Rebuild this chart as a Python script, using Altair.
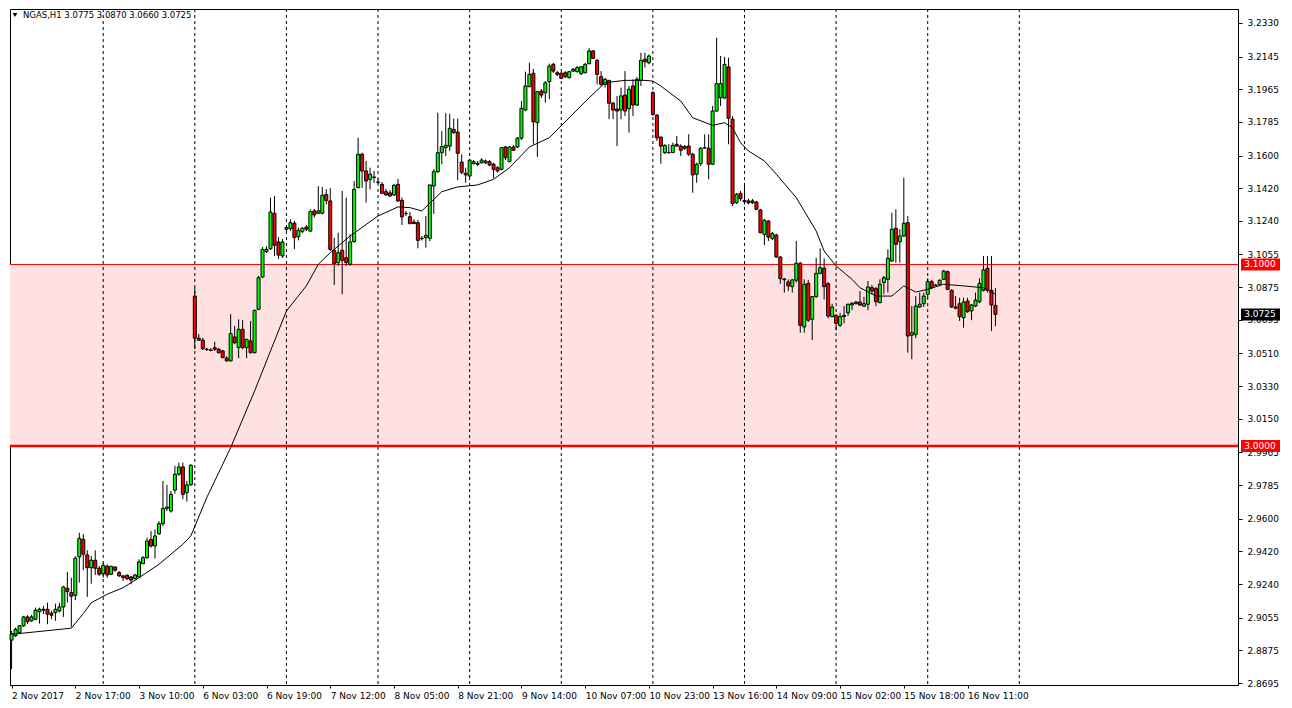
import json
import altair as alt
import pandas as pd

# ---------------- data (NGAS, H1) ----------------
opens = [
    2.8931, 2.8955, 2.8973, 2.9010, 2.9059, 2.9037, 2.9046, 2.9088, 2.9101, 2.9101,
    2.9079, 2.9083, 2.9092, 2.9114, 2.9217, 2.9193, 2.9178, 2.9389, 2.9486, 2.9400,
    2.9330, 2.9371, 2.9327, 2.9297, 2.9338, 2.9294, 2.9334, 2.9303, 2.9285, 2.9288,
    2.9279, 2.9270, 2.9279, 2.9352, 2.9385, 2.9486, 2.9450, 2.9517, 2.9572, 2.9657,
    2.9642, 2.9757, 2.9845, 2.9885, 2.9743, 2.9786, 3.0826, 3.0594, 3.0583, 3.0533,
    3.0529, 3.0542, 3.0533, 3.0524, 3.0484, 3.0469, 3.0601, 3.0542, 3.0643, 3.0542,
    3.0579, 3.0514, 3.0753, 3.0931, 3.1070, 3.1087, 3.1282, 3.1124, 3.1047, 3.1194,
    3.1197, 3.1227, 3.1153, 3.1181, 3.1206, 3.1184, 3.1295, 3.1282, 3.1282, 3.1386,
    3.1350, 3.1078, 3.1010, 3.1078, 3.1037, 3.1001, 3.1126, 3.1423, 3.1607, 3.1515,
    3.1469, 3.1479, 3.1454, 3.1441, 3.1401, 3.1394, 3.1383, 3.1441, 3.1353, 3.1280,
    3.1263, 3.1234, 3.1230, 3.1142, 3.1148, 3.1144, 3.1432, 3.1511, 3.1616, 3.1643,
    3.1652, 3.1744, 3.1729, 3.1564, 3.1502, 3.1487, 3.1555, 3.1551, 3.1560, 3.1560,
    3.1566, 3.1552, 3.1533, 3.1524, 3.1647, 3.1566, 3.1647, 3.1647, 3.1695, 3.1851,
    3.1979, 3.2053, 3.1781, 3.1955, 3.1946, 3.2007, 3.2102, 3.2056, 3.2053, 3.2056,
    3.2029, 3.2065, 3.2062, 3.2051, 3.2056, 3.2106, 3.2176, 3.2124, 3.2034, 3.1992,
    3.2014, 3.1888, 3.1856, 3.1851, 3.1933, 3.1858, 3.1983, 3.1878, 3.2014, 3.2130,
    3.2111, 3.1946, 3.1823, 3.1702, 3.1616, 3.1616, 3.1616, 3.1662, 3.1652, 3.1649,
    3.1652, 3.1607, 3.1497, 3.1555, 3.1642, 3.1640, 3.1552, 3.1845, 3.1918, 3.1917,
    3.2088, 3.1800, 3.1340, 3.1392, 3.1353, 3.1350, 3.1350, 3.1344, 3.1300, 3.1166,
    3.1239, 3.1142, 3.1162, 3.1041, 3.0920, 3.0904, 3.0878, 3.0913, 3.1007, 3.0656,
    3.0896, 3.0698, 3.0823, 3.0951, 3.0979, 3.0894, 3.0713, 3.0720, 3.0665, 3.0713,
    3.0734, 3.0777, 3.0784, 3.0793, 3.0770, 3.0781, 3.0872, 3.0867, 3.0790, 3.0900,
    3.0918, 3.1019, 3.1199, 3.1126, 3.1157, 3.1230, 3.0610, 3.0615, 3.0766, 3.0784,
    3.0836, 3.0905, 3.0887, 3.0891, 3.0918, 3.0960, 3.0858, 3.0766, 3.0784, 3.0707,
    3.0799, 3.0744, 3.0771, 3.0795, 3.0858, 3.0979, 3.0858, 3.0775,
]
highs = [
    2.8982, 2.9000, 2.9015, 2.9065, 2.9068, 2.9070, 2.9110, 2.9110, 2.9120, 2.9138,
    2.9092, 2.9132, 2.9138, 2.9230, 2.9306, 2.9275, 2.9394, 2.9523, 2.9514, 2.9426,
    2.9394, 2.9426, 2.9340, 2.9358, 2.9349, 2.9340, 2.9338, 2.9312, 2.9288, 2.9294,
    2.9285, 2.9296, 2.9376, 2.9394, 2.9495, 2.9532, 2.9541, 2.9587, 2.9808, 2.9786,
    2.9753, 2.9891, 2.9909, 2.9909, 2.9808, 2.9900, 3.0872, 3.0617, 3.0596, 3.0542,
    3.0539, 3.0575, 3.0540, 3.0529, 3.0495, 3.0726, 3.0661, 3.0698, 3.0693, 3.0588,
    3.0689, 3.0749, 3.0937, 3.1096, 3.1101, 3.1368, 3.1377, 3.1151, 3.1140, 3.1212,
    3.1249, 3.1239, 3.1203, 3.1206, 3.1217, 3.1304, 3.1306, 3.1432, 3.1427, 3.1414,
    3.1420, 3.1146, 3.1175, 3.1405, 3.1368, 3.1166, 3.1460, 3.1698, 3.1616, 3.1570,
    3.1533, 3.1515, 3.1471, 3.1454, 3.1416, 3.1410, 3.1443, 3.1471, 3.1368, 3.1295,
    3.1289, 3.1250, 3.1245, 3.1157, 3.1267, 3.1427, 3.1526, 3.1836, 3.1735, 3.1834,
    3.1830, 3.1803, 3.1803, 3.1607, 3.1533, 3.1581, 3.1575, 3.1570, 3.1586, 3.1578,
    3.1575, 3.1561, 3.1542, 3.1647, 3.1652, 3.1652, 3.1658, 3.1702, 3.1900, 3.2062,
    3.2111, 3.2077, 3.1955, 3.1966, 3.2010, 3.2106, 3.2110, 3.2065, 3.2060, 3.2065,
    3.2065, 3.2082, 3.2093, 3.2093, 3.2110, 3.2191, 3.2181, 3.2132, 3.2065, 3.2027,
    3.2016, 3.1895, 3.1928, 3.1974, 3.2065, 3.1983, 3.2020, 3.2032, 3.2166, 3.2166,
    3.2157, 3.1955, 3.1827, 3.1702, 3.1662, 3.1662, 3.1671, 3.1708, 3.1662, 3.1658,
    3.1717, 3.1616, 3.1561, 3.1647, 3.1717, 3.1717, 3.1873, 3.2249, 3.2148, 3.2143,
    3.2139, 3.1818, 3.1394, 3.1405, 3.1436, 3.1362, 3.1361, 3.1350, 3.1306, 3.1250,
    3.1245, 3.1179, 3.1170, 3.1047, 3.0926, 3.0918, 3.0920, 3.1129, 3.1014, 3.0918,
    3.0915, 3.0826, 3.1037, 3.1089, 3.1034, 3.0904, 3.0784, 3.0727, 3.0734, 3.0771,
    3.0784, 3.0793, 3.0799, 3.0854, 3.0821, 3.0909, 3.0887, 3.0876, 3.0918, 3.0937,
    3.1083, 3.1285, 3.1304, 3.1194, 3.1478, 3.1267, 3.0771, 3.0826, 3.0845, 3.0845,
    3.0924, 3.0915, 3.0893, 3.0918, 3.0970, 3.0967, 3.0862, 3.0826, 3.0817, 3.0817,
    3.0817, 3.0782, 3.0845, 3.0924, 3.1047, 3.1047, 3.1047, 3.0870,
]
lows = [
    2.8772, 2.8949, 2.8966, 2.9004, 2.9019, 2.9033, 2.9041, 2.9022, 2.9074, 2.9019,
    2.9046, 2.9037, 2.9083, 2.9059, 2.9138, 2.9004, 2.9151, 2.9248, 2.9316, 2.9169,
    2.9242, 2.9290, 2.9285, 2.9275, 2.9275, 2.9290, 2.9308, 2.9279, 2.9257, 2.9261,
    2.9239, 2.9266, 2.9275, 2.9349, 2.9380, 2.9440, 2.9380, 2.9510, 2.9560, 2.9642,
    2.9633, 2.9738, 2.9836, 2.9707, 2.9694, 2.9781, 3.0533, 3.0579, 3.0529, 3.0524,
    3.0522, 3.0524, 3.0511, 3.0484, 3.0465, 3.0465, 3.0561, 3.0484, 3.0533, 3.0484,
    3.0509, 3.0511, 3.0748, 3.0926, 3.1063, 3.1080, 3.1047, 3.1030, 3.1036, 3.1184,
    3.1184, 3.1085, 3.1133, 3.1173, 3.1184, 3.1179, 3.1258, 3.1278, 3.1276, 3.1331,
    3.1074, 3.0887, 3.0992, 3.0836, 3.0992, 3.0992, 3.1120, 3.1420, 3.1422, 3.1341,
    3.1414, 3.1450, 3.1443, 3.1388, 3.1377, 3.1372, 3.1377, 3.1344, 3.1217, 3.1267,
    3.1221, 3.1223, 3.1089, 3.1132, 3.1092, 3.1129, 3.1278, 3.1504, 3.1552, 3.1597,
    3.1625, 3.1719, 3.1464, 3.1497, 3.1450, 3.1482, 3.1551, 3.1542, 3.1556, 3.1553,
    3.1542, 3.1475, 3.1506, 3.1519, 3.1575, 3.1564, 3.1625, 3.1642, 3.1686, 3.1845,
    3.1977, 3.1662, 3.1592, 3.1917, 3.1891, 3.1910, 3.2054, 3.2038, 3.2021, 3.2027,
    3.2024, 3.2060, 3.2057, 3.2043, 3.2052, 3.2101, 3.2132, 3.1992, 3.1983, 3.1974,
    3.1800, 3.1800, 3.1652, 3.1800, 3.1818, 3.1726, 3.1818, 3.1873, 3.1983, 3.2084,
    3.2102, 3.1818, 3.1680, 3.1555, 3.1608, 3.1610, 3.1614, 3.1647, 3.1597, 3.1630,
    3.1597, 3.1395, 3.1450, 3.1542, 3.1636, 3.1469, 3.1548, 3.1840, 3.1873, 3.1911,
    3.1662, 3.1322, 3.1333, 3.1350, 3.1331, 3.1331, 3.1333, 3.1300, 3.1171, 3.1106,
    3.1129, 3.1135, 3.1036, 3.0894, 3.0845, 3.0854, 3.0845, 3.0900, 3.0624, 3.0624,
    3.0683, 3.0583, 3.0817, 3.0946, 3.0808, 3.0704, 3.0709, 3.0638, 3.0656, 3.0674,
    3.0716, 3.0748, 3.0780, 3.0771, 3.0766, 3.0748, 3.0836, 3.0771, 3.0785, 3.0836,
    3.0845, 3.1014, 3.1010, 3.1010, 3.1151, 3.0514, 3.0478, 3.0594, 3.0760, 3.0766,
    3.0817, 3.0865, 3.0879, 3.0887, 3.0915, 3.0859, 3.0760, 3.0753, 3.0689, 3.0652,
    3.0733, 3.0693, 3.0766, 3.0788, 3.0851, 3.0845, 3.0634, 3.0660,
]
closes = [
    2.8967, 2.8991, 2.9010, 2.9059, 2.9033, 2.9059, 2.9096, 2.9101, 2.9096, 2.9074,
    2.9068, 2.9101, 2.9114, 2.9224, 2.9198, 2.9173, 2.9382, 2.9492, 2.9404, 2.9330,
    2.9371, 2.9327, 2.9294, 2.9343, 2.9290, 2.9338, 2.9316, 2.9285, 2.9275, 2.9270,
    2.9262, 2.9290, 2.9362, 2.9385, 2.9477, 2.9450, 2.9505, 2.9572, 2.9657, 2.9664,
    2.9734, 2.9845, 2.9885, 2.9734, 2.9786, 2.9894, 3.0594, 3.0583, 3.0536, 3.0531,
    3.0527, 3.0533, 3.0514, 3.0487, 3.0469, 3.0619, 3.0569, 3.0643, 3.0542, 3.0588,
    3.0514, 3.0748, 3.0927, 3.1083, 3.1083, 3.1289, 3.1106, 3.1052, 3.1124, 3.1203,
    3.1230, 3.1148, 3.1188, 3.1199, 3.1194, 3.1291, 3.1273, 3.1295, 3.1381, 3.1353,
    3.1083, 3.1004, 3.1065, 3.1023, 3.1010, 3.1124, 3.1414, 3.1607, 3.1515, 3.1460,
    3.1497, 3.1482, 3.1453, 3.1392, 3.1383, 3.1377, 3.1436, 3.1350, 3.1262, 3.1281,
    3.1225, 3.1225, 3.1133, 3.1144, 3.1161, 3.1438, 3.1511, 3.1616, 3.1649, 3.1656,
    3.1750, 3.1726, 3.1612, 3.1506, 3.1493, 3.1574, 3.1566, 3.1557, 3.1575, 3.1570,
    3.1548, 3.1524, 3.1515, 3.1643, 3.1588, 3.1647, 3.1629, 3.1695, 3.1860, 3.1983,
    3.2047, 3.1786, 3.1952, 3.1933, 3.2001, 3.2093, 3.2065, 3.2047, 3.2025, 3.2034,
    3.2062, 3.2075, 3.2084, 3.2089, 3.2102, 3.2176, 3.2135, 3.2047, 3.1992, 3.2020,
    3.1888, 3.1851, 3.1845, 3.1928, 3.1845, 3.1965, 3.1878, 3.2020, 3.2124, 3.2117,
    3.2148, 3.1827, 3.1698, 3.1652, 3.1656, 3.1617, 3.1656, 3.1652, 3.1629, 3.1640,
    3.1607, 3.1493, 3.1552, 3.1640, 3.1643, 3.1552, 3.1845, 3.1996, 3.1996, 3.2102,
    3.1805, 3.1335, 3.1386, 3.1362, 3.1346, 3.1340, 3.1340, 3.1304, 3.1175, 3.1243,
    3.1151, 3.1170, 3.1041, 3.0922, 3.0916, 3.0882, 3.0915, 3.1007, 3.0665, 3.0891,
    3.0693, 3.0823, 3.0951, 3.0982, 3.0878, 3.0716, 3.0766, 3.0676, 3.0713, 3.0720,
    3.0781, 3.0786, 3.0793, 3.0777, 3.0784, 3.0876, 3.0854, 3.0795, 3.0891, 3.0927,
    3.1034, 3.1194, 3.1111, 3.1157, 3.1227, 3.0606, 3.0624, 3.0771, 3.0781, 3.0826,
    3.0905, 3.0872, 3.0884, 3.0913, 3.0964, 3.0863, 3.0766, 3.0759, 3.0713, 3.0793,
    3.0740, 3.0777, 3.0804, 3.0896, 3.0970, 3.0858, 3.0777, 3.0725,
]

# moving average (at selected bars)
ma_bar = [0, 15, 18, 20, 24, 28, 32, 37, 43, 45, 49, 55, 61, 69, 74, 77, 80, 85, 92, 97,
          100, 103, 108, 112, 117, 121, 125, 130, 135, 140, 145, 149, 154, 159, 161, 163,
          168, 171, 176, 179, 181, 183, 185, 189, 192, 197, 199, 202, 204, 207, 211, 213,
          217, 221, 224, 227, 230, 234, 239, 244, 247]
ma_val = [2.8963, 2.8997, 2.9077, 2.9137, 2.9184, 2.9220, 2.9275, 2.9349, 2.9459, 2.9505,
          2.9716, 2.9991, 3.0303, 3.0744, 3.0882, 3.1001, 3.1065, 3.1157, 3.1267, 3.1317,
          3.1313, 3.1295, 3.1401, 3.1427, 3.1438, 3.1469, 3.1533, 3.1647, 3.1698, 3.1808,
          3.1918, 3.2001, 3.2014, 3.2014, 3.2010, 3.1983, 3.1900, 3.1808, 3.1766, 3.1781,
          3.1753, 3.1671, 3.1625, 3.1570, 3.1497, 3.1368, 3.1295, 3.1184, 3.1074, 3.0992,
          3.0918, 3.0872, 3.0826, 3.0826, 3.0882, 3.0848, 3.0863, 3.0891, 3.0882, 3.0872,
          3.0836]

# axis labels
x_label_bars = [0, 16, 32, 48, 64, 80, 96, 112, 128, 144, 160, 176, 192, 208, 224, 240]
x_labels = ["2 Nov 2017", "2 Nov 17:00", "3 Nov 10:00", "6 Nov 03:00", "6 Nov 19:00",
            "7 Nov 12:00", "8 Nov 05:00", "8 Nov 21:00", "9 Nov 14:00", "10 Nov 07:00",
            "10 Nov 23:00", "13 Nov 16:00", "14 Nov 09:00", "15 Nov 02:00", "15 Nov 18:00",
            "16 Nov 11:00"]
grid_bars = [23, 46, 69, 92, 115, 138, 161, 184, 207, 230, 253]
y_ticks = [3.2330, 3.2145, 3.1965, 3.1785, 3.1600, 3.1420, 3.1240, 3.1055, 3.0875, 3.0695,
           3.0510, 3.0330, 3.0150, 2.9965, 2.9785, 2.9600, 2.9420, 2.9240, 2.9055, 2.8875,
           2.8695]
zone_low, zone_high = 3.0000, 3.1000
symbol = "NGAS,H1"

# ---------------- build ----------------
n = min(len(opens), len(highs), len(lows), len(closes))
df = pd.DataFrame({
    "bar": list(range(n)),
    "open": opens[:n], "high": highs[:n], "low": lows[:n], "close": closes[:n],
})
df["dir"] = ["up" if c >= o else "down" for o, c in zip(df["open"], df["close"])]

ma_df = pd.DataFrame({"bar": ma_bar, "ma": ma_val})
grid_df = pd.DataFrame({"bar": grid_bars})
zone_df = pd.DataFrame({"lo": [zone_low], "hi": [zone_high]})
last = df.iloc[-1]
box_df = pd.DataFrame({
    "price": [zone_high, zone_low, float(last["close"])],
    "bg": ["#ff0000", "#ff0000", "#000000"],
    "label": [f"{zone_high:.4f}", f"{zone_low:.4f}", f"{last['close']:.4f}"],
})
header_df = pd.DataFrame({"t": [f"{symbol}  {last['open']:.4f} {last['high']:.4f} "
                                f"{last['low']:.4f} {last['close']:.4f}"]})

W, H = 1228, 676
FONT = "DejaVu Sans"
xs = alt.Scale(domain=[-0.4, 307.9], nice=False, zero=False, padding=0)
ys = alt.Scale(domain=[2.8684, 3.2407], nice=False, zero=False, padding=0)

label_expr = json.dumps(x_labels) + "[round(datum.value / 16)]"
x_axis = alt.Axis(values=x_label_bars, labelExpr=label_expr, title=None, grid=False,
                  labelAlign="left", labelBaseline="top", tickSize=3, labelPadding=3,
                  labelFont=FONT, labelFontSize=9, labelColor="black", tickColor="black",
                  domainColor="black", labelOverlap=False, labelFlush=False)
y_axis = alt.Axis(values=y_ticks, format=".4f", title=None, grid=False, orient="right",
                  tickSize=4, labelPadding=5, labelFont=FONT, labelFontSize=9,
                  labelColor="black", tickColor="black", domainColor="black",
                  labelOverlap=False, labelFlush=False)


def X(field):
    return alt.X(field, type="quantitative", scale=xs, axis=x_axis)


def Y(field):
    return alt.Y(field, type="quantitative", scale=ys, axis=y_axis)


zone = alt.Chart(zone_df).mark_rect(color="#ffe1e1").encode(
    y=Y("hi"), y2="lo", x=alt.value(0), x2=alt.value(W))

grid = alt.Chart(grid_df).mark_rule(color="black", strokeWidth=1, strokeDash=[3, 3]).encode(
    x=X("bar"), y=alt.value(0), y2=alt.value(H))

line_hi = alt.Chart(zone_df).mark_rule(color="#ff0000", strokeWidth=1).encode(
    y=Y("hi"), x=alt.value(0), x2=alt.value(W))
line_lo = alt.Chart(zone_df).mark_rule(color="#ff0000", strokeWidth=2.5).encode(
    y=Y("lo"), x=alt.value(0), x2=alt.value(W))

wicks = alt.Chart(df).mark_rule(color="black", strokeWidth=1).encode(
    x=X("bar"), y=Y("low"), y2="high")

bodies = alt.Chart(df).mark_bar(width=3, stroke="black", strokeWidth=1).encode(
    x=X("bar"), y=Y("open"), y2="close",
    color=alt.Color("dir:N", scale=alt.Scale(domain=["up", "down"],
                                            range=["#00ff00", "#ff0000"]), legend=None))

ma = alt.Chart(ma_df).mark_line(color="black", strokeWidth=1).encode(
    x=X("bar"), y=Y("ma"))

boxes = alt.Chart(box_df).mark_rect(yOffset=-6, y2Offset=6).encode(
    y=Y("price"), y2=alt.Y2("price"), x=alt.value(W + 3), x2=alt.value(W + 42),
    color=alt.Color("bg:N", scale=None))
box_text = alt.Chart(box_df).mark_text(color="white", font=FONT, fontSize=9,
                                      align="center", baseline="middle").encode(
    y=Y("price"), x=alt.value(W + 22), text="label:N")

tri = alt.Chart(header_df).mark_point(shape="triangle-down", filled=True, color="black",
                                      size=22, opacity=1).encode(
    x=alt.value(5), y=alt.value(6))
header = alt.Chart(header_df).mark_text(font=FONT, fontSize=8.5, align="left",
                                        baseline="middle", color="black").encode(
    x=alt.value(13), y=alt.value(6), text="t:N")

chart = alt.layer(zone, grid, line_hi, line_lo, wicks, bodies, ma, boxes, box_text,
                  tri, header).properties(
    width=W, height=H,
    padding={"left": 0, "top": 0, "right": 0, "bottom": 0},
    background="white",
).configure_view(stroke="black", strokeWidth=1)

chart.save("out.html", embed_options={"renderer": "svg", "actions": False})
